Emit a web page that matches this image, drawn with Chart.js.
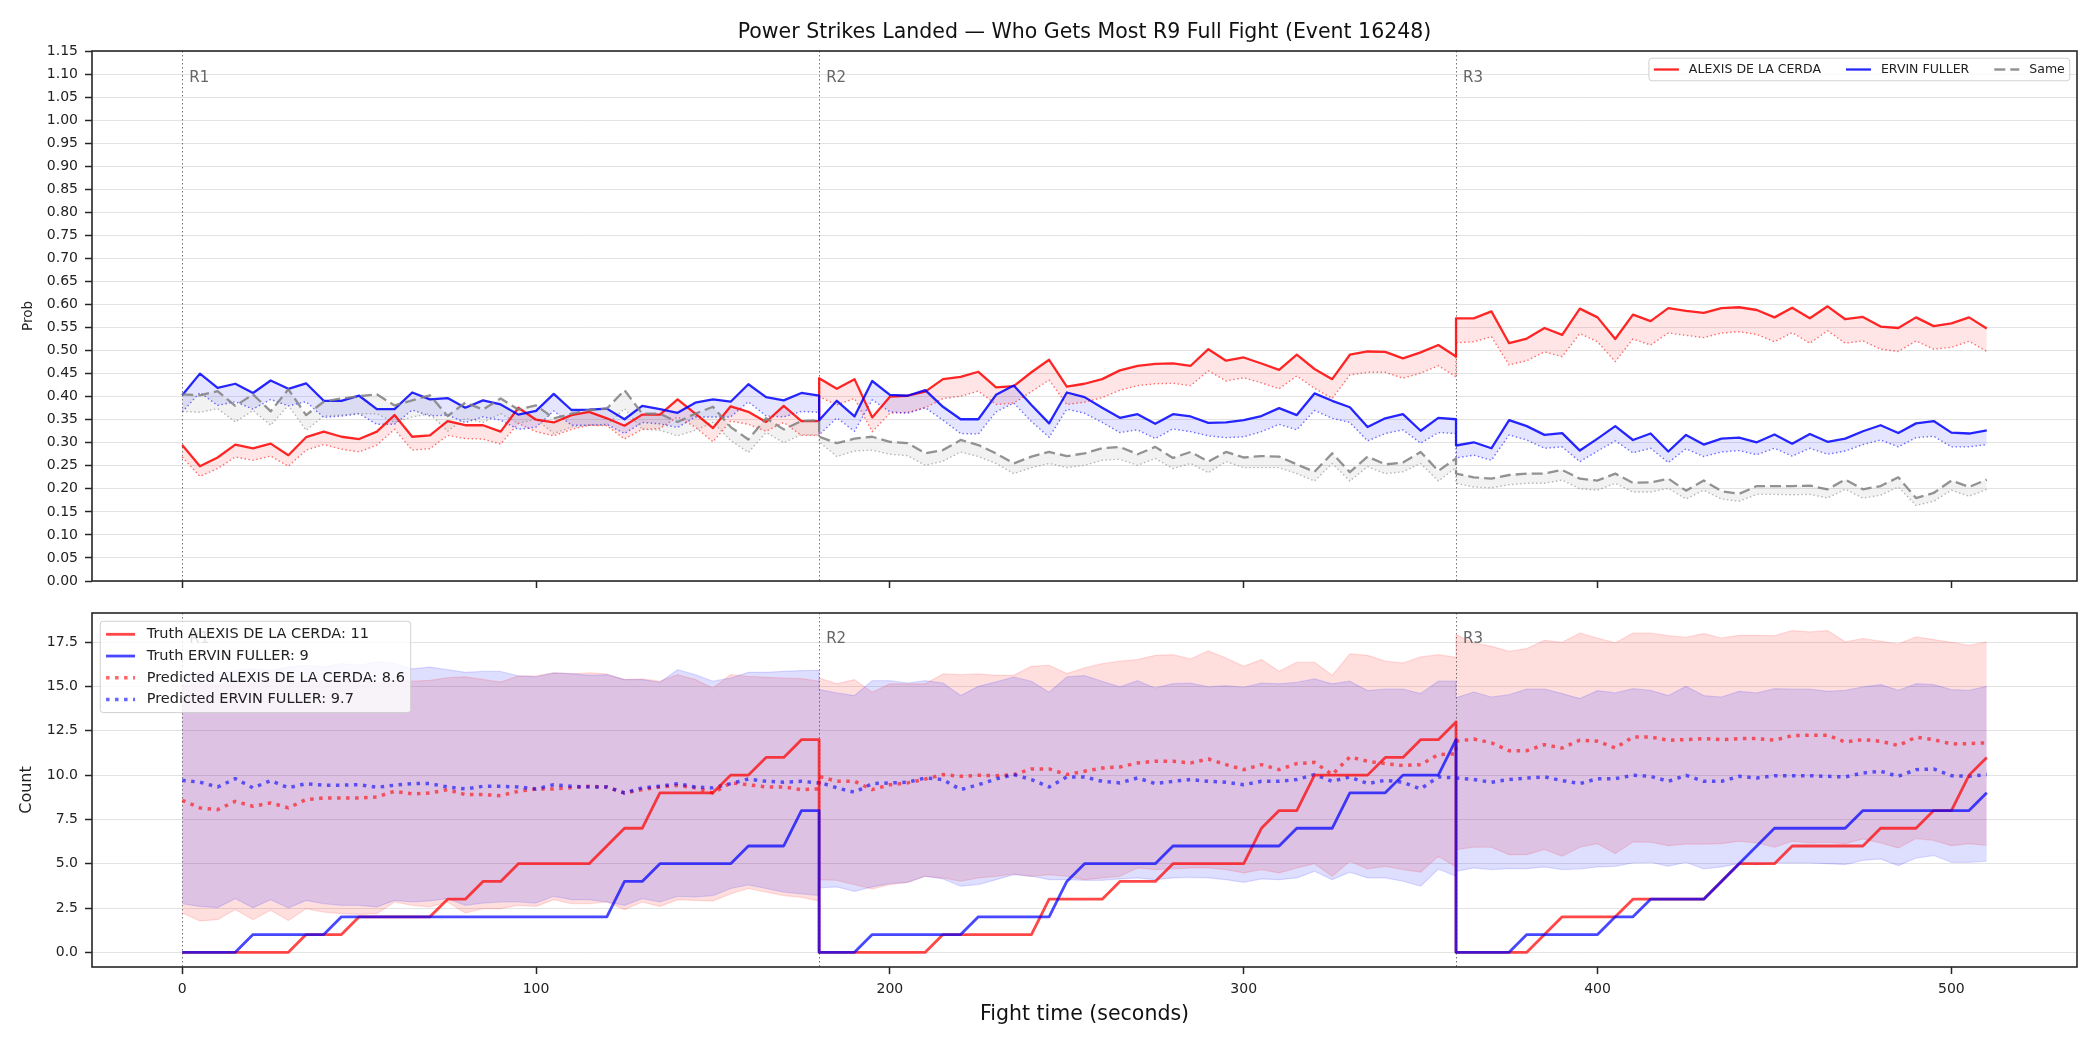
<!DOCTYPE html>
<html>
<head>
<meta charset="utf-8">
<title>Power Strikes Landed</title>
<script src="https://cdn.jsdelivr.net/npm/chart.js@4.4.1/dist/chart.umd.min.js"></script>
<style>
  html, body { margin: 0; padding: 0; background: #fff; }
  #wrap { position: relative; width: 2100px; height: 1050px; overflow: hidden; }
  canvas { position: absolute; left: 0; }
  #probChart { top: 0; width: 2100px; height: 600px; }
  #countChart { top: 580px; width: 2100px; height: 470px; }
</style>
</head>
<body>
<div id="wrap">
  <canvas id="probChart" width="2100" height="600"></canvas>
  <canvas id="countChart" width="2100" height="470"></canvas>
</div>
<script>
const chartTitle = "Power Strikes Landed — Who Gets Most R9 Full Fight (Event 16248)";
const fighterA = "ALEXIS DE LA CERDA";
const fighterB = "ERVIN FULLER";

const roundStarts = [0, 180, 360];
const roundLabels = ["R1", "R2", "R3"];

const timeTicks = [0, 100, 200, 300, 400, 500];
const probTicks = [0, 0.05, 0.1, 0.15, 0.2, 0.25, 0.3, 0.35, 0.4, 0.45, 0.5, 0.55, 0.6, 0.65, 0.7, 0.75, 0.8, 0.85, 0.9, 0.95, 1.0, 1.05, 1.1, 1.15];
const countTicks = [0, 2.5, 5, 7.5, 10, 12.5, 15, 17.5];

const fightTime = [
  0, 5, 10, 15, 20, 25, 30, 35, 40, 45, 50, 55, 60, 65, 70, 75, 80, 85, 90, 95, 100, 105, 110, 115, 120, 125, 130, 135, 140, 145, 150, 155, 160, 165, 170, 175, 180,
  180, 185, 190, 195, 200, 205, 210, 215, 220, 225, 230, 235, 240, 245, 250, 255, 260, 265, 270, 275, 280, 285, 290, 295, 300, 305, 310, 315, 320, 325, 330, 335, 340, 345, 350, 355, 360,
  360, 365, 370, 375, 380, 385, 390, 395, 400, 405, 410, 415, 420, 425, 430, 435, 440, 445, 450, 455, 460, 465, 470, 475, 480, 485, 490, 495, 500, 505, 510
];

// top panel: live probability (solid / dashed) and model prior (dotted)
const probAlexis = [
  0.295, 0.249, 0.268, 0.296, 0.288, 0.298, 0.273, 0.312, 0.324, 0.313, 0.308, 0.324, 0.360, 0.313, 0.316, 0.347, 0.338, 0.338, 0.324, 0.376, 0.350, 0.344, 0.360, 0.367, 0.353, 0.337, 0.361, 0.361, 0.394, 0.363, 0.332, 0.379, 0.367, 0.345, 0.380, 0.347, 0.347,
  0.440, 0.417, 0.438, 0.355, 0.400, 0.402, 0.411, 0.438, 0.443, 0.454, 0.420, 0.423, 0.453, 0.480, 0.422, 0.428, 0.438, 0.457, 0.467, 0.471, 0.472, 0.467, 0.503, 0.478, 0.485, 0.472, 0.458, 0.491, 0.460, 0.438, 0.491, 0.498, 0.497, 0.483, 0.496, 0.512, 0.487,
  0.570, 0.570, 0.585, 0.516, 0.526, 0.549, 0.534, 0.591, 0.572, 0.525, 0.578, 0.564, 0.592, 0.586, 0.582, 0.592, 0.594, 0.588, 0.572, 0.593, 0.570, 0.596, 0.568, 0.573, 0.552, 0.549, 0.572, 0.553, 0.559, 0.572, 0.548
];
const priorAlexis = [
  0.269, 0.227, 0.244, 0.269, 0.262, 0.271, 0.249, 0.284, 0.296, 0.286, 0.280, 0.295, 0.329, 0.284, 0.287, 0.316, 0.309, 0.308, 0.297, 0.342, 0.324, 0.315, 0.329, 0.338, 0.337, 0.308, 0.329, 0.331, 0.356, 0.334, 0.302, 0.347, 0.340, 0.325, 0.344, 0.316, 0.316,
  0.400, 0.382, 0.396, 0.324, 0.364, 0.366, 0.376, 0.396, 0.401, 0.412, 0.383, 0.386, 0.411, 0.436, 0.383, 0.388, 0.398, 0.414, 0.424, 0.428, 0.429, 0.424, 0.456, 0.434, 0.441, 0.430, 0.417, 0.445, 0.418, 0.396, 0.447, 0.453, 0.453, 0.440, 0.451, 0.467, 0.443,
  0.517, 0.519, 0.530, 0.469, 0.478, 0.497, 0.487, 0.537, 0.519, 0.476, 0.525, 0.512, 0.538, 0.533, 0.528, 0.538, 0.541, 0.535, 0.519, 0.539, 0.516, 0.543, 0.516, 0.521, 0.503, 0.498, 0.521, 0.503, 0.507, 0.520, 0.498
];
const probErvin = [
  0.403, 0.450, 0.419, 0.428, 0.408, 0.435, 0.417, 0.429, 0.391, 0.391, 0.402, 0.373, 0.373, 0.409, 0.394, 0.397, 0.376, 0.392, 0.383, 0.361, 0.369, 0.406, 0.371, 0.372, 0.374, 0.351, 0.380, 0.373, 0.365, 0.387, 0.394, 0.389, 0.427, 0.399, 0.392, 0.408, 0.402,
  0.349, 0.391, 0.357, 0.434, 0.404, 0.402, 0.414, 0.378, 0.351, 0.351, 0.404, 0.424, 0.382, 0.342, 0.409, 0.399, 0.376, 0.354, 0.362, 0.341, 0.362, 0.357, 0.343, 0.344, 0.349, 0.358, 0.375, 0.360, 0.407, 0.391, 0.377, 0.334, 0.353, 0.362, 0.326, 0.354, 0.351,
  0.294, 0.301, 0.288, 0.349, 0.336, 0.317, 0.321, 0.283, 0.309, 0.336, 0.306, 0.320, 0.281, 0.317, 0.296, 0.309, 0.311, 0.301, 0.318, 0.298, 0.319, 0.302, 0.309, 0.325, 0.338, 0.321, 0.342, 0.347, 0.322, 0.320, 0.327
];
const priorErvin = [
  0.367, 0.409, 0.381, 0.389, 0.373, 0.394, 0.380, 0.389, 0.355, 0.358, 0.363, 0.340, 0.340, 0.371, 0.358, 0.360, 0.344, 0.356, 0.349, 0.329, 0.334, 0.369, 0.338, 0.338, 0.340, 0.320, 0.344, 0.341, 0.333, 0.356, 0.356, 0.356, 0.389, 0.358, 0.356, 0.368, 0.366,
  0.317, 0.354, 0.325, 0.393, 0.367, 0.364, 0.376, 0.349, 0.320, 0.319, 0.367, 0.386, 0.346, 0.312, 0.373, 0.364, 0.344, 0.322, 0.328, 0.309, 0.330, 0.324, 0.315, 0.311, 0.313, 0.324, 0.340, 0.328, 0.370, 0.353, 0.344, 0.304, 0.320, 0.328, 0.299, 0.322, 0.320,
  0.267, 0.273, 0.262, 0.317, 0.306, 0.288, 0.291, 0.259, 0.282, 0.304, 0.278, 0.288, 0.257, 0.287, 0.270, 0.280, 0.283, 0.274, 0.288, 0.271, 0.288, 0.275, 0.282, 0.296, 0.306, 0.291, 0.311, 0.314, 0.291, 0.291, 0.296
];
const probSame = [
  0.405, 0.403, 0.412, 0.380, 0.405, 0.368, 0.416, 0.360, 0.389, 0.396, 0.401, 0.405, 0.381, 0.392, 0.403, 0.358, 0.387, 0.372, 0.396, 0.372, 0.381, 0.353, 0.363, 0.371, 0.374, 0.414, 0.363, 0.363, 0.345, 0.363, 0.378, 0.334, 0.307, 0.353, 0.329, 0.347, 0.349,
  0.313, 0.299, 0.309, 0.313, 0.302, 0.299, 0.277, 0.284, 0.306, 0.295, 0.277, 0.255, 0.270, 0.280, 0.271, 0.277, 0.288, 0.291, 0.275, 0.291, 0.267, 0.280, 0.259, 0.280, 0.268, 0.271, 0.270, 0.253, 0.237, 0.277, 0.236, 0.270, 0.253, 0.257, 0.280, 0.239, 0.266,
  0.233, 0.225, 0.222, 0.230, 0.233, 0.233, 0.241, 0.222, 0.218, 0.233, 0.213, 0.214, 0.222, 0.196, 0.218, 0.195, 0.189, 0.206, 0.206, 0.206, 0.207, 0.199, 0.220, 0.199, 0.206, 0.225, 0.180, 0.191, 0.218, 0.204, 0.220
];
const priorSame = [
  0.368, 0.366, 0.374, 0.345, 0.370, 0.338, 0.381, 0.327, 0.358, 0.360, 0.363, 0.363, 0.344, 0.356, 0.363, 0.325, 0.353, 0.344, 0.363, 0.342, 0.351, 0.320, 0.334, 0.338, 0.338, 0.374, 0.329, 0.327, 0.315, 0.327, 0.344, 0.305, 0.279, 0.322, 0.300, 0.318, 0.316,
  0.302, 0.270, 0.282, 0.284, 0.275, 0.272, 0.251, 0.260, 0.280, 0.270, 0.255, 0.233, 0.246, 0.255, 0.246, 0.251, 0.262, 0.264, 0.251, 0.266, 0.244, 0.255, 0.235, 0.259, 0.246, 0.246, 0.246, 0.233, 0.217, 0.255, 0.217, 0.248, 0.233, 0.237, 0.255, 0.217, 0.246,
  0.212, 0.204, 0.202, 0.209, 0.212, 0.212, 0.219, 0.200, 0.197, 0.212, 0.193, 0.193, 0.201, 0.178, 0.197, 0.178, 0.173, 0.188, 0.188, 0.187, 0.188, 0.180, 0.199, 0.180, 0.186, 0.204, 0.164, 0.173, 0.197, 0.184, 0.199
];

// bottom panel: counts per round
const truthAlexis = [
  0, 0, 0, 0, 0, 0, 0, 1, 1, 1, 2, 2, 2, 2, 2, 3, 3, 4, 4, 5, 5, 5, 5, 5, 6, 7, 7, 9, 9, 9, 9, 10, 10, 11, 11, 12, 12,
  0, 0, 0, 0, 0, 0, 0, 1, 1, 1, 1, 1, 1, 3, 3, 3, 3, 4, 4, 4, 5, 5, 5, 5, 5, 7, 8, 8, 10, 10, 10, 10, 11, 11, 12, 12, 13,
  0, 0, 0, 0, 0, 1, 2, 2, 2, 2, 3, 3, 3, 3, 3, 4, 5, 5, 5, 6, 6, 6, 6, 6, 7, 7, 7, 8, 8, 10, 11
];
const truthErvin = [
  0, 0, 0, 0, 1, 1, 1, 1, 1, 2, 2, 2, 2, 2, 2, 2, 2, 2, 2, 2, 2, 2, 2, 2, 2, 4, 4, 5, 5, 5, 5, 5, 6, 6, 6, 8, 8,
  0, 0, 0, 1, 1, 1, 1, 1, 1, 2, 2, 2, 2, 2, 4, 5, 5, 5, 5, 5, 6, 6, 6, 6, 6, 6, 6, 7, 7, 7, 9, 9, 9, 10, 10, 10, 12,
  0, 0, 0, 0, 1, 1, 1, 1, 1, 2, 2, 3, 3, 3, 3, 4, 5, 6, 7, 7, 7, 7, 7, 8, 8, 8, 8, 8, 8, 8, 9
];
const predAlexis = [
  8.58, 8.15, 8.05, 8.52, 8.24, 8.43, 8.15, 8.62, 8.71, 8.71, 8.71, 8.77, 9.09, 8.94, 8.99, 9.18, 8.90, 8.90, 8.84, 9.09, 9.22, 9.22, 9.29, 9.37, 9.33, 8.99, 9.18, 9.33, 9.41, 9.28, 8.99, 9.56, 9.46, 9.33, 9.33, 9.18, 9.22,
  9.93, 9.65, 9.65, 9.18, 9.46, 9.56, 9.78, 10.03, 9.93, 9.99, 9.97, 10.03, 10.35, 10.35, 10.03, 10.22, 10.40, 10.46, 10.69, 10.78, 10.78, 10.69, 10.91, 10.59, 10.31, 10.59, 10.31, 10.65, 10.72, 10.03, 11.03, 10.78, 10.65, 10.54, 10.59, 11.16, 11.20,
  11.91, 12.04, 11.82, 11.38, 11.38, 11.72, 11.53, 11.97, 11.91, 11.53, 12.15, 12.15, 11.97, 12.00, 12.06, 12.00, 12.06, 12.06, 11.97, 12.23, 12.25, 12.25, 11.87, 12.00, 11.91, 11.67, 12.14, 12.00, 11.76, 11.78, 11.82
];
const predErvin = [
  9.71, 9.60, 9.33, 9.80, 9.28, 9.69, 9.28, 9.52, 9.43, 9.43, 9.46, 9.31, 9.43, 9.52, 9.52, 9.33, 9.22, 9.37, 9.37, 9.33, 9.22, 9.46, 9.37, 9.33, 9.33, 8.99, 9.28, 9.37, 9.52, 9.33, 9.28, 9.52, 9.78, 9.65, 9.60, 9.65, 9.56,
  9.60, 9.28, 9.03, 9.52, 9.56, 9.60, 9.84, 9.75, 9.18, 9.46, 9.78, 10.03, 9.75, 9.33, 9.90, 9.90, 9.65, 9.56, 9.84, 9.52, 9.65, 9.75, 9.65, 9.60, 9.46, 9.65, 9.65, 9.75, 10.03, 9.65, 9.90, 9.52, 9.71, 9.60, 9.22, 9.90, 9.84,
  9.84, 9.75, 9.60, 9.75, 9.84, 9.90, 9.69, 9.52, 9.80, 9.80, 9.99, 9.93, 9.65, 9.99, 9.65, 9.65, 9.93, 9.84, 9.97, 9.97, 9.97, 9.93, 9.90, 10.12, 10.22, 9.93, 10.31, 10.35, 9.97, 9.93, 10.03
];
const alexisHigh = [
  15.0, 15.2, 15.1, 15.3, 15.2, 15.4, 15.3, 15.2, 15.3, 15.4, 15.3, 15.2, 15.3, 15.3, 15.35, 15.5, 15.55, 15.4, 15.25, 15.6, 15.6, 15.77, 15.71, 15.77, 15.71, 15.39, 15.43, 15.30, 15.67, 15.39, 14.92, 15.67, 15.58, 15.52, 15.48, 15.45, 15.30,
  15.48, 15.15, 15.39, 14.68, 15.15, 15.15, 15.15, 15.71, 15.67, 15.71, 15.63, 15.63, 16.14, 16.20, 15.73, 16.05, 16.29, 16.43, 16.52, 16.76, 16.80, 16.56, 17.01, 16.61, 16.14, 16.52, 15.86, 16.37, 16.37, 15.63, 16.84, 16.76, 16.43, 16.33, 16.67, 16.80, 16.65,
  17.93, 17.46, 17.27, 16.99, 17.14, 17.61, 17.50, 18.02, 17.74, 17.46, 18.02, 18.02, 17.87, 17.78, 17.99, 17.74, 17.89, 17.89, 17.87, 18.16, 18.08, 18.16, 17.52, 17.71, 17.56, 17.40, 17.80, 17.65, 17.50, 17.33, 17.52
];
const alexisLow = [
  2.22, 1.77, 1.84, 2.41, 1.84, 2.37, 1.80, 2.46, 2.27, 2.18, 2.14, 2.18, 2.84, 2.65, 2.56, 2.84, 2.22, 2.46, 2.46, 2.65, 2.59, 2.97, 2.74, 2.74, 2.84, 2.41, 2.84, 2.59, 2.97, 2.93, 2.9, 3.3, 3.6, 3.4, 3.2, 3.1, 2.9,
  4.10, 4.06, 3.82, 3.57, 3.82, 3.95, 4.29, 4.20, 4.01, 4.20, 4.29, 4.42, 4.29, 4.38, 4.29, 4.10, 4.20, 4.29, 4.76, 4.67, 4.70, 4.76, 4.76, 4.67, 4.48, 4.67, 4.48, 4.76, 5.00, 4.29, 5.14, 4.70, 4.85, 4.67, 4.52, 5.42, 4.82,
  5.80, 5.93, 5.93, 5.51, 5.51, 5.80, 5.42, 5.93, 6.13, 5.57, 6.23, 6.21, 6.02, 6.11, 6.11, 6.13, 6.27, 6.17, 5.93, 6.27, 6.17, 6.21, 6.13, 6.40, 6.17, 5.89, 6.42, 6.32, 6.02, 6.13, 6.04
];
const ervinHigh = [
  15.6, 15.8, 15.7, 15.9, 16.0, 15.9, 16.1, 16.2, 16.1, 16.3, 16.2, 16.4, 16.3, 16.0, 16.1, 15.95, 15.8, 15.85, 15.85, 15.6, 15.55, 15.77, 15.73, 15.63, 15.67, 15.39, 15.39, 15.24, 15.95, 15.67, 15.30, 15.48, 15.80, 15.80, 15.86, 15.90, 15.92,
  14.83, 14.64, 14.49, 15.33, 15.33, 15.20, 15.33, 15.20, 14.49, 15.01, 15.26, 15.54, 15.30, 14.68, 15.54, 15.62, 15.30, 14.98, 15.33, 14.92, 15.16, 15.20, 14.98, 15.05, 14.96, 15.20, 15.15, 15.24, 15.43, 15.15, 15.30, 14.77, 14.86, 14.86, 14.60, 15.30, 15.30,
  14.36, 14.69, 14.41, 14.54, 14.86, 14.86, 14.60, 14.32, 14.77, 14.64, 14.88, 14.79, 14.49, 15.01, 14.49, 14.41, 14.73, 14.64, 14.88, 14.86, 14.86, 14.73, 14.79, 14.98, 15.11, 14.79, 15.16, 15.11, 14.83, 14.79, 15.01
];
const ervinLow = [
  2.74, 2.59, 2.52, 3.03, 2.52, 2.97, 2.50, 2.93, 2.74, 2.65, 2.65, 2.56, 2.93, 2.84, 2.90, 3.03, 2.65, 2.78, 2.84, 2.84, 2.78, 3.16, 2.97, 2.97, 2.84, 2.65, 3.03, 2.84, 3.16, 3.12, 3.2, 3.6, 3.8, 3.6, 3.4, 3.3, 3.2,
  3.63, 3.69, 3.44, 3.69, 3.88, 3.95, 4.29, 4.14, 3.73, 3.82, 4.10, 4.38, 4.29, 4.10, 4.10, 4.06, 4.06, 4.14, 4.20, 4.10, 4.20, 4.23, 4.20, 4.10, 3.95, 4.14, 4.10, 4.20, 4.57, 4.10, 4.52, 4.20, 4.20, 4.01, 3.73, 4.70, 4.29,
  4.57, 4.76, 4.67, 4.72, 4.72, 4.82, 4.67, 4.70, 4.82, 4.85, 5.04, 5.08, 4.85, 5.08, 4.70, 4.82, 5.00, 4.95, 5.04, 5.04, 5.04, 5.00, 4.95, 5.19, 5.27, 4.89, 5.32, 5.46, 5.08, 5.08, 5.14
];

const FONT = '"DejaVu Sans", sans-serif';
const INK = "#262626";
Chart.defaults.font.family = FONT;
Chart.defaults.color = "#222";

function pts(values) {
  return fightTime.map((t, i) => ({ x: t, y: values[i] }));
}

const roundMarks = {
  id: "roundMarks",
  beforeDatasetsDraw(chart) {
    const { ctx, chartArea, scales } = chart;
    ctx.save();
    ctx.strokeStyle = "rgba(70,70,70,0.75)";
    ctx.lineWidth = 1;
    ctx.setLineDash([1.5, 2.5]);
    roundStarts.forEach(t => {
      const px = Math.round(scales.x.getPixelForValue(t)) + 0.5;
      ctx.beginPath();
      ctx.moveTo(px, chartArea.top);
      ctx.lineTo(px, chartArea.bottom);
      ctx.stroke();
    });
    ctx.restore();
  },
  afterDatasetsDraw(chart, args, opts) {
    const { ctx, scales } = chart;
    ctx.save();
    ctx.fillStyle = "#666";
    ctx.font = `15px ${FONT}`;
    ctx.textBaseline = "middle";
    ctx.textAlign = "left";
    roundStarts.forEach((t, i) => {
      ctx.fillText(roundLabels[i], scales.x.getPixelForValue(t) + 7, scales.y.getPixelForValue(opts.labelAt));
    });
    ctx.restore();
  }
};

const axesFrame = {
  id: "axesFrame",
  afterDatasetsDraw(chart) {
    const { ctx, chartArea } = chart;
    ctx.save();
    ctx.strokeStyle = INK;
    ctx.lineWidth = 1.6;
    ctx.strokeRect(chartArea.left, chartArea.top, chartArea.right - chartArea.left, chartArea.bottom - chartArea.top);
    ctx.restore();
  }
};

const frameLegend = {
  id: "frameLegend",
  afterDatasetsDraw(chart, args, opts) {
    const { ctx, chartArea } = chart;
    const fs = opts.fontSize;
    const items = opts.datasets.map(i => chart.data.datasets[i]);
    const ncol = opts.columns;
    const nrow = Math.ceil(items.length / ncol);
    const pad = 0.4 * fs, handleLen = 2 * fs, textPad = 0.8 * fs, colGap = 2 * fs, rowGap = 0.5 * fs;
    ctx.save();
    ctx.font = `${fs}px ${FONT}`;
    const colWidths = [];
    for (let c = 0; c < ncol; c++) {
      let w = 0;
      for (let r = 0; r < nrow; r++) {
        const ds = items[c * nrow + r];
        if (ds) w = Math.max(w, ctx.measureText(ds.label).width);
      }
      colWidths.push(handleLen + textPad + w);
    }
    const boxW = 2 * pad + colWidths.reduce((a, b) => a + b, 0) + (ncol - 1) * colGap;
    const boxH = 2 * pad + nrow * fs + (nrow - 1) * rowGap;
    const inset = 0.5 * fs + 1;
    const left = opts.align === "right" ? chartArea.right - inset - boxW : chartArea.left + inset;
    const top = chartArea.top + inset;

    ctx.fillStyle = "rgba(255,255,255,0.8)";
    ctx.strokeStyle = "rgba(204,204,204,0.9)";
    ctx.lineWidth = 1;
    ctx.beginPath();
    ctx.roundRect(left, top, boxW, boxH, 3);
    ctx.fill();
    ctx.stroke();

    ctx.textBaseline = "middle";
    ctx.textAlign = "left";
    let x = left + pad;
    for (let c = 0; c < ncol; c++) {
      for (let r = 0; r < nrow; r++) {
        const ds = items[c * nrow + r];
        if (!ds) continue;
        const y = top + pad + r * (fs + rowGap) + fs / 2;
        ctx.strokeStyle = ds.borderColor;
        ctx.lineWidth = ds.borderWidth;
        ctx.setLineDash(ds.borderDash || []);
        ctx.beginPath();
        ctx.moveTo(x, y);
        ctx.lineTo(x + handleLen, y);
        ctx.stroke();
        ctx.setLineDash([]);
        ctx.fillStyle = "#222";
        ctx.fillText(ds.label, x + handleLen + textPad, y);
      }
      x += colWidths[c] + colGap;
    }
    ctx.restore();
  }
};

const figTitle = {
  id: "figTitle",
  afterDraw(chart, args, opts) {
    const { ctx, chartArea } = chart;
    ctx.save();
    ctx.fillStyle = "#111";
    ctx.font = `20.5px ${FONT}`;
    ctx.textAlign = "center";
    ctx.textBaseline = "middle";
    ctx.fillText(opts.text, (chartArea.left + chartArea.right) / 2, opts.y);
    ctx.restore();
  }
};

function timeAxis(showLabels, height) {
  return {
    type: "linear",
    min: -25.5,
    max: 535.5,
    afterBuildTicks: s => { s.ticks = timeTicks.map(v => ({ value: v })); },
    afterFit: s => { s.height = height; },
    grid: { drawOnChartArea: false, drawTicks: true, tickLength: 7, tickColor: INK, tickWidth: 1.5 },
    border: { display: false },
    ticks: { display: showLabels, padding: 7, color: "#222", font: { size: 14 }, maxRotation: 0, autoSkip: false },
    title: {
      display: showLabels,
      text: "Fight time (seconds)",
      color: "#111",
      font: { size: 20.5 },
      padding: { top: 0, bottom: 22.7 }
    }
  };
}

function valueAxis(min, max, ticks, digits, title, titleSize, titlePad) {
  return {
    min: min,
    max: max,
    afterBuildTicks: s => { s.ticks = ticks.map(v => ({ value: v })); },
    afterFit: s => { s.width = 92; },
    grid: { color: "rgba(0,0,0,0.11)", lineWidth: 1, tickLength: 7, tickColor: INK, tickWidth: 1.5 },
    border: { display: false },
    ticks: { autoSkip: false, padding: 7, color: "#222", font: { size: 14 }, callback: v => v.toFixed(digits) },
    title: { display: true, text: title, color: "#222", font: { size: titleSize }, padding: { top: titlePad, bottom: 0 } }
  };
}

const sharedOptions = {
  responsive: false,
  devicePixelRatio: 1,
  animation: false,
  events: [],
  elements: {
    point: { radius: 0 },
    line: { tension: 0, borderJoinStyle: "round", borderCapStyle: "butt" }
  }
};

new Chart(document.getElementById("probChart"), {
  type: "line",
  data: {
    datasets: [
      { label: fighterA, data: pts(probAlexis), borderColor: "rgba(255,0,0,0.85)", borderWidth: 2.3, fill: "+1", backgroundColor: "rgba(255,0,0,0.1)", order: 2 },
      { label: "prior " + fighterA, data: pts(priorAlexis), borderColor: "rgba(255,0,0,0.55)", borderWidth: 1.4, borderDash: [1.5, 2.5], fill: false, order: 5 },
      { label: fighterB, data: pts(probErvin), borderColor: "rgba(0,0,255,0.85)", borderWidth: 2.3, fill: "+1", backgroundColor: "rgba(0,0,255,0.1)", order: 1 },
      { label: "prior " + fighterB, data: pts(priorErvin), borderColor: "rgba(0,0,255,0.55)", borderWidth: 1.4, borderDash: [1.5, 2.5], fill: false, order: 4 },
      { label: "Same", data: pts(probSame), borderColor: "rgba(128,128,128,0.85)", borderWidth: 2.3, borderDash: [11, 5], fill: "+1", backgroundColor: "rgba(128,128,128,0.1)", order: 0 },
      { label: "prior Same", data: pts(priorSame), borderColor: "rgba(128,128,128,0.55)", borderWidth: 1.4, borderDash: [1.5, 2.5], fill: false, order: 3 }
    ]
  },
  options: {
    ...sharedOptions,
    layout: { padding: { top: 51, right: 23, bottom: 0, left: 0 } },
    scales: {
      x: timeAxis(false, 19),
      y: valueAxis(0, 1.15, probTicks, 2, "Prob", 13.5, 20)
    },
    plugins: {
      legend: { display: false },
      tooltip: { enabled: false },
      filler: { drawTime: "beforeDatasetsDraw" },
      roundMarks: { labelAt: 1.092 },
      frameLegend: { datasets: [0, 2, 4], columns: 3, fontSize: 12.5, align: "right" },
      figTitle: { text: chartTitle, y: 33 }
    }
  },
  plugins: [roundMarks, axesFrame, frameLegend, figTitle]
});

new Chart(document.getElementById("countChart"), {
  type: "line",
  data: {
    datasets: [
      { label: "Truth " + fighterA + ": 11", data: pts(truthAlexis), borderColor: "rgba(255,0,0,0.72)", borderWidth: 2.8, fill: false, order: 1 },
      { label: "Truth " + fighterB + ": 9", data: pts(truthErvin), borderColor: "rgba(0,0,255,0.72)", borderWidth: 2.8, fill: false, order: 0 },
      { label: "Predicted " + fighterA + ": 8.6", data: pts(predAlexis), borderColor: "rgba(255,0,0,0.6)", borderWidth: 3.5, borderDash: [3.5, 5.5], fill: false, order: 3 },
      { label: "Predicted " + fighterB + ": 9.7", data: pts(predErvin), borderColor: "rgba(0,0,255,0.6)", borderWidth: 3.5, borderDash: [3.5, 5.5], fill: false, order: 2 },
      { label: "band high " + fighterA, data: pts(alexisHigh), borderColor: "rgba(255,0,0,0.13)", borderWidth: 1.2, fill: "+1", backgroundColor: "rgba(255,0,0,0.13)", order: 6 },
      { label: "band low " + fighterA, data: pts(alexisLow), borderColor: "rgba(255,0,0,0.13)", borderWidth: 1.2, fill: false, order: 7 },
      { label: "band high " + fighterB, data: pts(ervinHigh), borderColor: "rgba(0,0,255,0.13)", borderWidth: 1.2, fill: "+1", backgroundColor: "rgba(0,0,255,0.13)", order: 4 },
      { label: "band low " + fighterB, data: pts(ervinLow), borderColor: "rgba(0,0,255,0.13)", borderWidth: 1.2, fill: false, order: 5 }
    ]
  },
  options: {
    ...sharedOptions,
    layout: { padding: { top: 33, right: 23, bottom: 0, left: 0 } },
    scales: {
      x: timeAxis(true, 83),
      y: valueAxis(-0.83, 19.15, countTicks, 1, "Count", 16, 17.5)
    },
    plugins: {
      legend: { display: false },
      tooltip: { enabled: false },
      filler: { drawTime: "beforeDatasetsDraw" },
      roundMarks: { labelAt: 17.7 },
      frameLegend: { datasets: [0, 1, 2, 3], columns: 1, fontSize: 14.5, align: "left" }
    }
  },
  plugins: [roundMarks, axesFrame, frameLegend]
});
</script>
</body>
</html>
